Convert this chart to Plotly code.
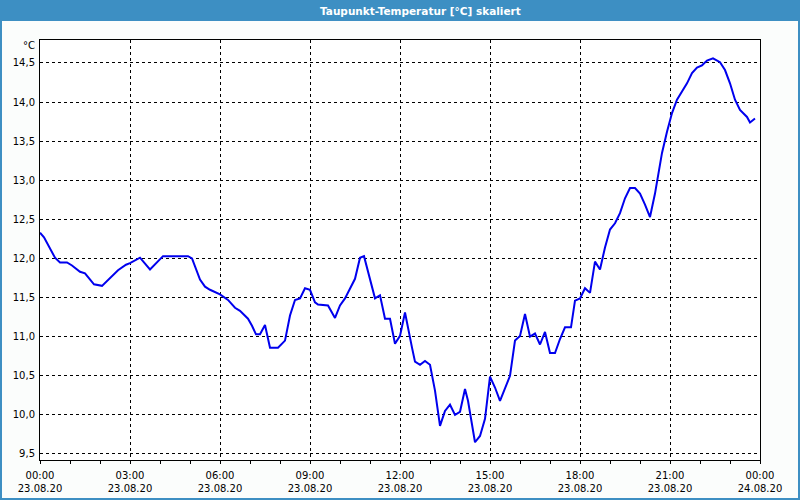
import plotly.graph_objects as go

# ---- data ----
times = ["00:00","00:08","00:30","00:40","00:54","01:04","01:20","01:30","01:48","02:04",
         "02:36","02:52","03:00","03:20","03:40","04:06","04:56","05:04","05:20","05:30",
         "05:40","06:00","06:16","06:30","06:40","06:56","07:04","07:12","07:20","07:30",
         "07:40","07:56","08:10","08:20","08:30","08:40","08:50","09:00","09:10","09:16",
         "09:36","09:50","10:00","10:10","10:30","10:40","10:48","11:04","11:10","11:20",
         "11:30","11:40","11:50","12:00","12:10","12:24","12:30","12:40","12:50","13:00",
         "13:10","13:20","13:30","13:40","13:50","14:00","14:10","14:16","14:30","14:40",
         "14:50","15:00","15:10","15:20","15:40","15:50","16:00","16:10","16:20","16:30",
         "16:40","16:50","17:00","17:10","17:20","17:30","17:42","17:50","18:00","18:10",
         "18:20","18:30","18:40","18:50","19:00","19:10","19:20","19:30","19:40","19:50",
         "20:00","20:10","20:20","20:30","20:38","20:44","20:54","21:04","21:14","21:24",
         "21:34","21:44","21:54","22:04","22:14","22:26","22:40","22:50","23:00","23:10",
         "23:20","23:34","23:40","23:50"]
dewpoint = [12.33,12.27,12.01,11.95,11.95,11.91,11.83,11.81,11.67,11.65,
            11.85,11.92,11.94,12.01,11.86,12.03,12.03,12.00,11.73,11.64,
            11.60,11.54,11.47,11.37,11.33,11.23,11.14,11.03,11.03,11.15,
            10.86,10.86,10.95,11.27,11.47,11.49,11.62,11.60,11.44,11.41,
            11.40,11.24,11.40,11.49,11.74,12.01,12.03,11.65,11.49,11.53,
            11.23,11.23,10.91,11.01,11.31,10.86,10.68,10.64,10.69,10.64,
            10.31,9.86,10.05,10.13,10.00,10.04,10.33,10.18,9.65,9.73,
            9.95,10.49,10.35,10.18,10.50,10.95,11.01,11.29,11.00,11.04,
            10.90,11.06,10.79,10.79,10.97,11.12,11.12,11.46,11.49,11.62,
            11.56,11.96,11.86,12.14,12.37,12.45,12.58,12.77,12.90,12.90,
            12.83,12.69,12.53,12.83,13.13,13.35,13.62,13.86,14.03,14.13,
            14.24,14.37,14.44,14.47,14.53,14.56,14.51,14.41,14.24,14.03,
            13.90,13.81,13.74,13.79]
x_tick_vals = ["2020-08-23 00:00","2020-08-23 03:00","2020-08-23 06:00","2020-08-23 09:00",
               "2020-08-23 12:00","2020-08-23 15:00","2020-08-23 18:00","2020-08-23 21:00",
               "2020-08-24 00:00"]
x_tick_text = ["00:00<br>23.08.20","03:00<br>23.08.20","06:00<br>23.08.20","09:00<br>23.08.20",
               "12:00<br>23.08.20","15:00<br>23.08.20","18:00<br>23.08.20","21:00<br>23.08.20",
               "00:00<br>24.08.20"]
y_tick_vals = [9.5, 10.0, 10.5, 11.0, 11.5, 12.0, 12.5, 13.0, 13.5, 14.0, 14.5]
title_text = "Taupunkt-Temperatur [°C] skaliert"
unit_text = "°C"

x = ["2020-08-23 " + t for t in times]

W, H = 800, 500
L, R, T, B = 40, 40, 40, 40
pw, ph = W - L - R, H - T - B
def px(xp):  # pixel -> paper x
    return (xp - L) / pw
def py(yp):  # pixel -> paper y
    return (H - B - yp) / ph

fig = go.Figure()
fig.add_trace(go.Scatter(x=x, y=dewpoint, mode="lines",
                         line=dict(color="#0000ee", width=2), hoverinfo="skip"))

font = dict(family="DejaVu Sans", size=10, color="#000000")
fig.update_layout(
    width=W, height=H, autosize=False,
    margin=dict(l=L, r=R, t=T, b=B, pad=0, autoexpand=False),
    paper_bgcolor="#fbfdfc", plot_bgcolor="#ffffff",
    separators=",.",
    showlegend=False,
    font=font,
    xaxis=dict(type="date", range=["2020-08-23 00:00", "2020-08-24 00:00"],
               automargin=False,
               tickmode="array", tickvals=x_tick_vals, ticktext=x_tick_text,
               ticks="outside", ticklen=3, tickcolor="#000000", tickwidth=1,
               ticklabelstandoff=3,
               minor=dict(dtick=3600000, tick0="2020-08-23", ticks="outside", ticklen=3,
                          tickcolor="#000000", showgrid=False),
               showgrid=True, gridcolor="#000000", gridwidth=1, griddash="3px,3px",
               showline=True, linecolor="#000000", linewidth=1, mirror=True,
               zeroline=False, tickfont=font, fixedrange=True),
    yaxis=dict(range=[9.423, 14.794], tickmode="array", tickvals=y_tick_vals,
               automargin=False,
               tickformat=".1f", ticks="", ticklabelstandoff=2,
               showgrid=True, gridcolor="#000000", gridwidth=1, griddash="3px,3px",
               showline=True, linecolor="#000000", linewidth=1, mirror=True,
               zeroline=False, tickfont=font, fixedrange=True),
)

shapes = [
    # title bar
    dict(type="rect", xref="paper", yref="paper", x0=px(0), x1=px(W), y0=py(21), y1=py(0),
         fillcolor="#3d8fc3", line=dict(width=0), layer="below"),
    # window border
    dict(type="rect", xref="paper", yref="paper", x0=px(0), x1=px(2), y0=py(H), y1=py(21),
         fillcolor="#3d8fc3", line=dict(width=0)),
    dict(type="rect", xref="paper", yref="paper", x0=px(W - 2), x1=px(W), y0=py(H), y1=py(21),
         fillcolor="#3d8fc3", line=dict(width=0)),
    dict(type="rect", xref="paper", yref="paper", x0=px(0), x1=px(W), y0=py(H), y1=py(H - 2),
         fillcolor="#3d8fc3", line=dict(width=0)),
]
fig.update_layout(shapes=shapes)

fig.add_annotation(text="<b>" + title_text + "</b>", xref="paper", yref="paper",
                   x=px(420), y=py(10.5), xanchor="center", yanchor="middle",
                   showarrow=False, font=dict(family="DejaVu Sans", size=10.5, color="#ffffff"))
fig.add_annotation(text=unit_text, xref="paper", yref="paper",
                   x=px(37), y=py(46), xanchor="right", yanchor="middle",
                   showarrow=False, font=font)

fig.write_html("out.html")
